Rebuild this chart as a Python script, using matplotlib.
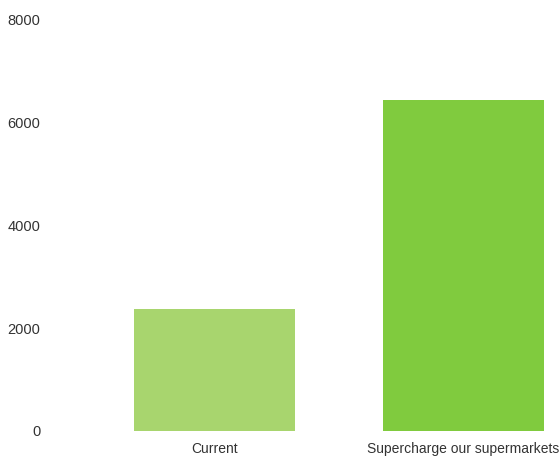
import numpy as np
import matplotlib.pyplot as plt

categories = ['Current', 'Supercharge our supermarkets']
values = [2380, 6450]
colors = ['#a8d56e', '#80cb3e']
yticks = [0, 2000, 4000, 6000, 8000]

plt.rcParams['font.family'] = ['Liberation Sans', 'DejaVu Sans']

fig = plt.figure(figsize=(5.59, 4.59), dpi=100)
ax = fig.add_axes([50 / 559, 28 / 459, 509 / 559, 411 / 459])

pos = np.arange(len(categories))
ax.bar(pos, values, width=0.647, color=colors)

ax.set_xlim(-0.661, 1.383)
ax.set_ylim(0, 8000)
ax.set_xticks(pos)
ax.set_xticklabels(categories)
ax.set_yticks(yticks)
ax.set_yticklabels([str(t) for t in yticks])

for s in ax.spines.values():
	s.set_visible(False)
ax.tick_params(length=0, colors='#333333')
ax.tick_params(axis='y', labelsize=10.5, pad=7)
ax.tick_params(axis='x', labelsize=10, pad=8)

fig.savefig('out.png', dpi=100)
